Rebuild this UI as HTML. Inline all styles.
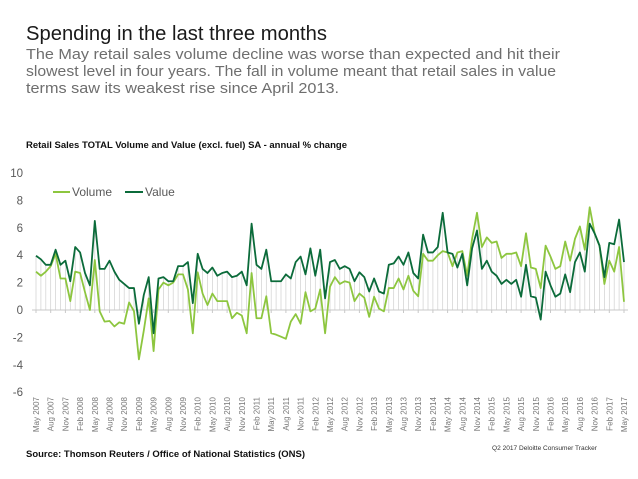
<!DOCTYPE html>
<html><head><meta charset="utf-8"><style>
html,body{margin:0;padding:0;background:#fff;}
svg{display:block;font-family:"Liberation Sans","DejaVu Sans",sans-serif;}
</style></head><body>
<svg id="chart" width="638" height="479" viewBox="0 0 638 479" xmlns="http://www.w3.org/2000/svg">
<text x="26" y="40" font-size="20" fill="#1a1a1a" textLength="301" lengthAdjust="spacingAndGlyphs">Spending in the last three months</text>
<g font-size="15" fill="#6e6e6e">
<text x="26" y="59" textLength="534" lengthAdjust="spacingAndGlyphs">The May retail sales volume decline was worse than expected and hit their</text>
<text x="26" y="76" textLength="530" lengthAdjust="spacingAndGlyphs">slowest level in four years. The fall in volume meant that retail sales in value</text>
<text x="26" y="93" textLength="313" lengthAdjust="spacingAndGlyphs">terms saw its weakest rise since April 2013.</text>
</g>
<text x="26" y="148" font-size="9" font-weight="bold" fill="#111" textLength="321" lengthAdjust="spacingAndGlyphs">Retail Sales TOTAL Volume and Value (excl. fuel) SA - annual % change</text>
<g id="grid"></g>
<g id="yaxis"></g>
<g id="xaxis"></g>
<g id="series"></g>
<g>
<g>
<line x1="53" y1="192" x2="70" y2="192" stroke="#8dc63f" stroke-width="2"/>
<text x="72" y="196" font-size="12" fill="#595959">Volume</text>
</g>
<g>
<line x1="125" y1="192" x2="143" y2="192" stroke="#0b6b3a" stroke-width="2"/>
<text x="145" y="196" font-size="12" fill="#595959">Value</text>
</g>
</g>
<text x="26" y="457" font-size="9.5" font-weight="bold" fill="#111" textLength="279" lengthAdjust="spacingAndGlyphs">Source: Thomson Reuters / Office of National Statistics (ONS)</text>
<text x="492" y="450" font-size="6.5" fill="#333" textLength="105" lengthAdjust="spacingAndGlyphs">Q2 2017 Deloitte Consumer Tracker</text>
</svg>
<script>
const yTicks = [10, 8, 6, 4, 2, 0, -2, -4, -6];
const xLabels = ["May 2007","Aug 2007","Nov 2007","Feb 2008","May 2008","Aug 2008","Nov 2008","Feb 2009","May 2009","Aug 2009","Nov 2009","Feb 2010","May 2010","Aug 2010","Nov 2010","Feb 2011","May 2011","Aug 2011","Nov 2011","Feb 2012","May 2012","Aug 2012","Nov 2012","Feb 2013","May 2013","Aug 2013","Nov 2013","Feb 2014","May 2014","Aug 2014","Nov 2014","Feb 2015","May 2015","Aug 2015","Nov 2015","Feb 2016","May 2016","Aug 2016","Nov 2016","Feb 2017","May 2017"];
const volume = [2.8,2.5,2.8,3.2,4.1,2.3,2.3,0.65,2.8,2.7,1.3,0.0,3.65,-0.1,-0.85,-0.8,-1.2,-0.9,-1.0,0.55,-0.1,-3.6,-1.5,0.85,-3.0,
1.5,2.0,1.8,2.0,2.6,2.6,1.5,-1.7,2.75,1.2,0.36,1.2,0.65,0.65,0.65,-0.6,-0.2,-0.4,-1.7,2.7,-0.6,-0.6,1.0,-1.7,
-1.8,-1.95,-2.1,-0.85,-0.3,-1.0,1.3,-0.1,0.1,1.5,-1.7,1.7,2.4,1.9,2.1,2.0,0.65,1.2,0.9,-0.5,0.97,0.1,-0.1,1.6,
1.6,2.3,1.5,2.5,1.4,1.0,4.1,3.6,3.6,4.0,4.3,4.2,3.2,4.2,4.3,2.5,5.2,7.1,4.6,5.3,4.9,5.0,3.8,4.1,
4.1,4.2,3.2,5.6,3.1,3.0,1.6,4.7,3.9,3.0,3.2,5.0,3.6,5.2,6.1,4.4,7.5,5.6,4.7,1.9,3.6,2.8,4.6,0.6];
const value = [3.96,3.7,3.3,3.3,4.4,3.3,3.6,2.1,4.6,4.2,2.7,1.8,6.5,3.0,3.0,3.6,2.8,2.2,1.9,1.6,1.6,-1.0,1.1,2.4,-1.7,
2.3,2.4,2.1,2.1,3.2,3.2,3.5,0.5,4.1,3.0,2.7,3.1,2.5,2.7,2.8,2.4,2.5,2.8,1.8,6.3,3.3,3.0,4.4,2.1,
2.1,2.1,2.6,2.3,3.5,3.9,2.6,4.5,2.5,4.4,0.85,3.5,3.65,3.0,3.2,3.0,2.1,2.75,2.4,1.35,2.3,1.35,1.2,3.3,
3.4,3.9,3.3,4.2,2.7,2.3,5.5,4.2,4.2,4.6,7.1,4.2,4.1,3.1,4.1,1.8,4.5,5.8,3.0,3.6,2.8,2.5,1.9,2.2,
1.9,2.2,0.97,3.3,1.0,0.9,-0.7,2.8,1.8,0.97,1.2,2.6,1.3,3.5,4.2,2.8,6.3,5.6,4.7,2.4,4.9,4.8,6.6,3.5];

const NS = "http://www.w3.org/2000/svg";
const X0 = 36, X1 = 624, Y0 = 310, PXU = 13.7;
const n = volume.length;
function xs(i){ return X0 + i * (X1 - X0) / (n - 1); }
function ys(v){ return Y0 - v * PXU; }
function mk(tag, attrs, parent){ const e = document.createElementNS(NS, tag); for (const k in attrs) e.setAttribute(k, attrs[k]); parent.appendChild(e); return e; }

const grid = document.getElementById('grid');
for (let i = 0; i < n; i++) {
  const top = Math.max(volume[i], value[i], 0);
  const l = mk('line', {x1: xs(i), x2: xs(i), y1: ys(0), y2: ys(top), stroke: '#d0d0d0', 'stroke-width': 0.7}, grid);
  
  
}
const yax = document.getElementById('yaxis');
yTicks.forEach(t => {
  const tx = mk('text', {x: 23, y: ys(t) + 4, 'text-anchor': 'end', 'font-size': 11.5, fill: '#595959'}, yax);
  tx.textContent = t;
  
  
});
const xax = document.getElementById('xaxis');
const base = mk('line', {x1: 32, x2: 628, y1: Y0, y2: Y0, stroke: '#c8c8c8', 'stroke-width': 1}, xax);


xLabels.forEach((lab, k) => {
  const i = k * 3;
  const x = xs(i);
  const tk = mk('line', {x1: x, x2: x, y1: Y0, y2: Y0 + 3, stroke: '#c8c8c8', 'stroke-width': 1}, xax);
  
  
  const tx = mk('text', {x: 0, y: 0, 'text-anchor': 'end', 'font-size': 8, fill: '#777', transform: 'translate(' + (x + 3) + ',397) rotate(-90)'}, xax);
  tx.textContent = lab;
  
  
});
const ser = document.getElementById('series');
function line(data, color, name){
  const d = data.map((v, i) => (i ? 'L' : 'M') + xs(i).toFixed(2) + ',' + ys(v).toFixed(2)).join(' ');
  const p = mk('path', {d: d, fill: 'none', stroke: color, 'stroke-width': 1.8, 'stroke-linejoin': 'round'}, ser);
  
  
}
line(volume, '#8dc63f', 'volume-line');
line(value, '#0b6b3a', 'value-line');
</script>
</body></html>
